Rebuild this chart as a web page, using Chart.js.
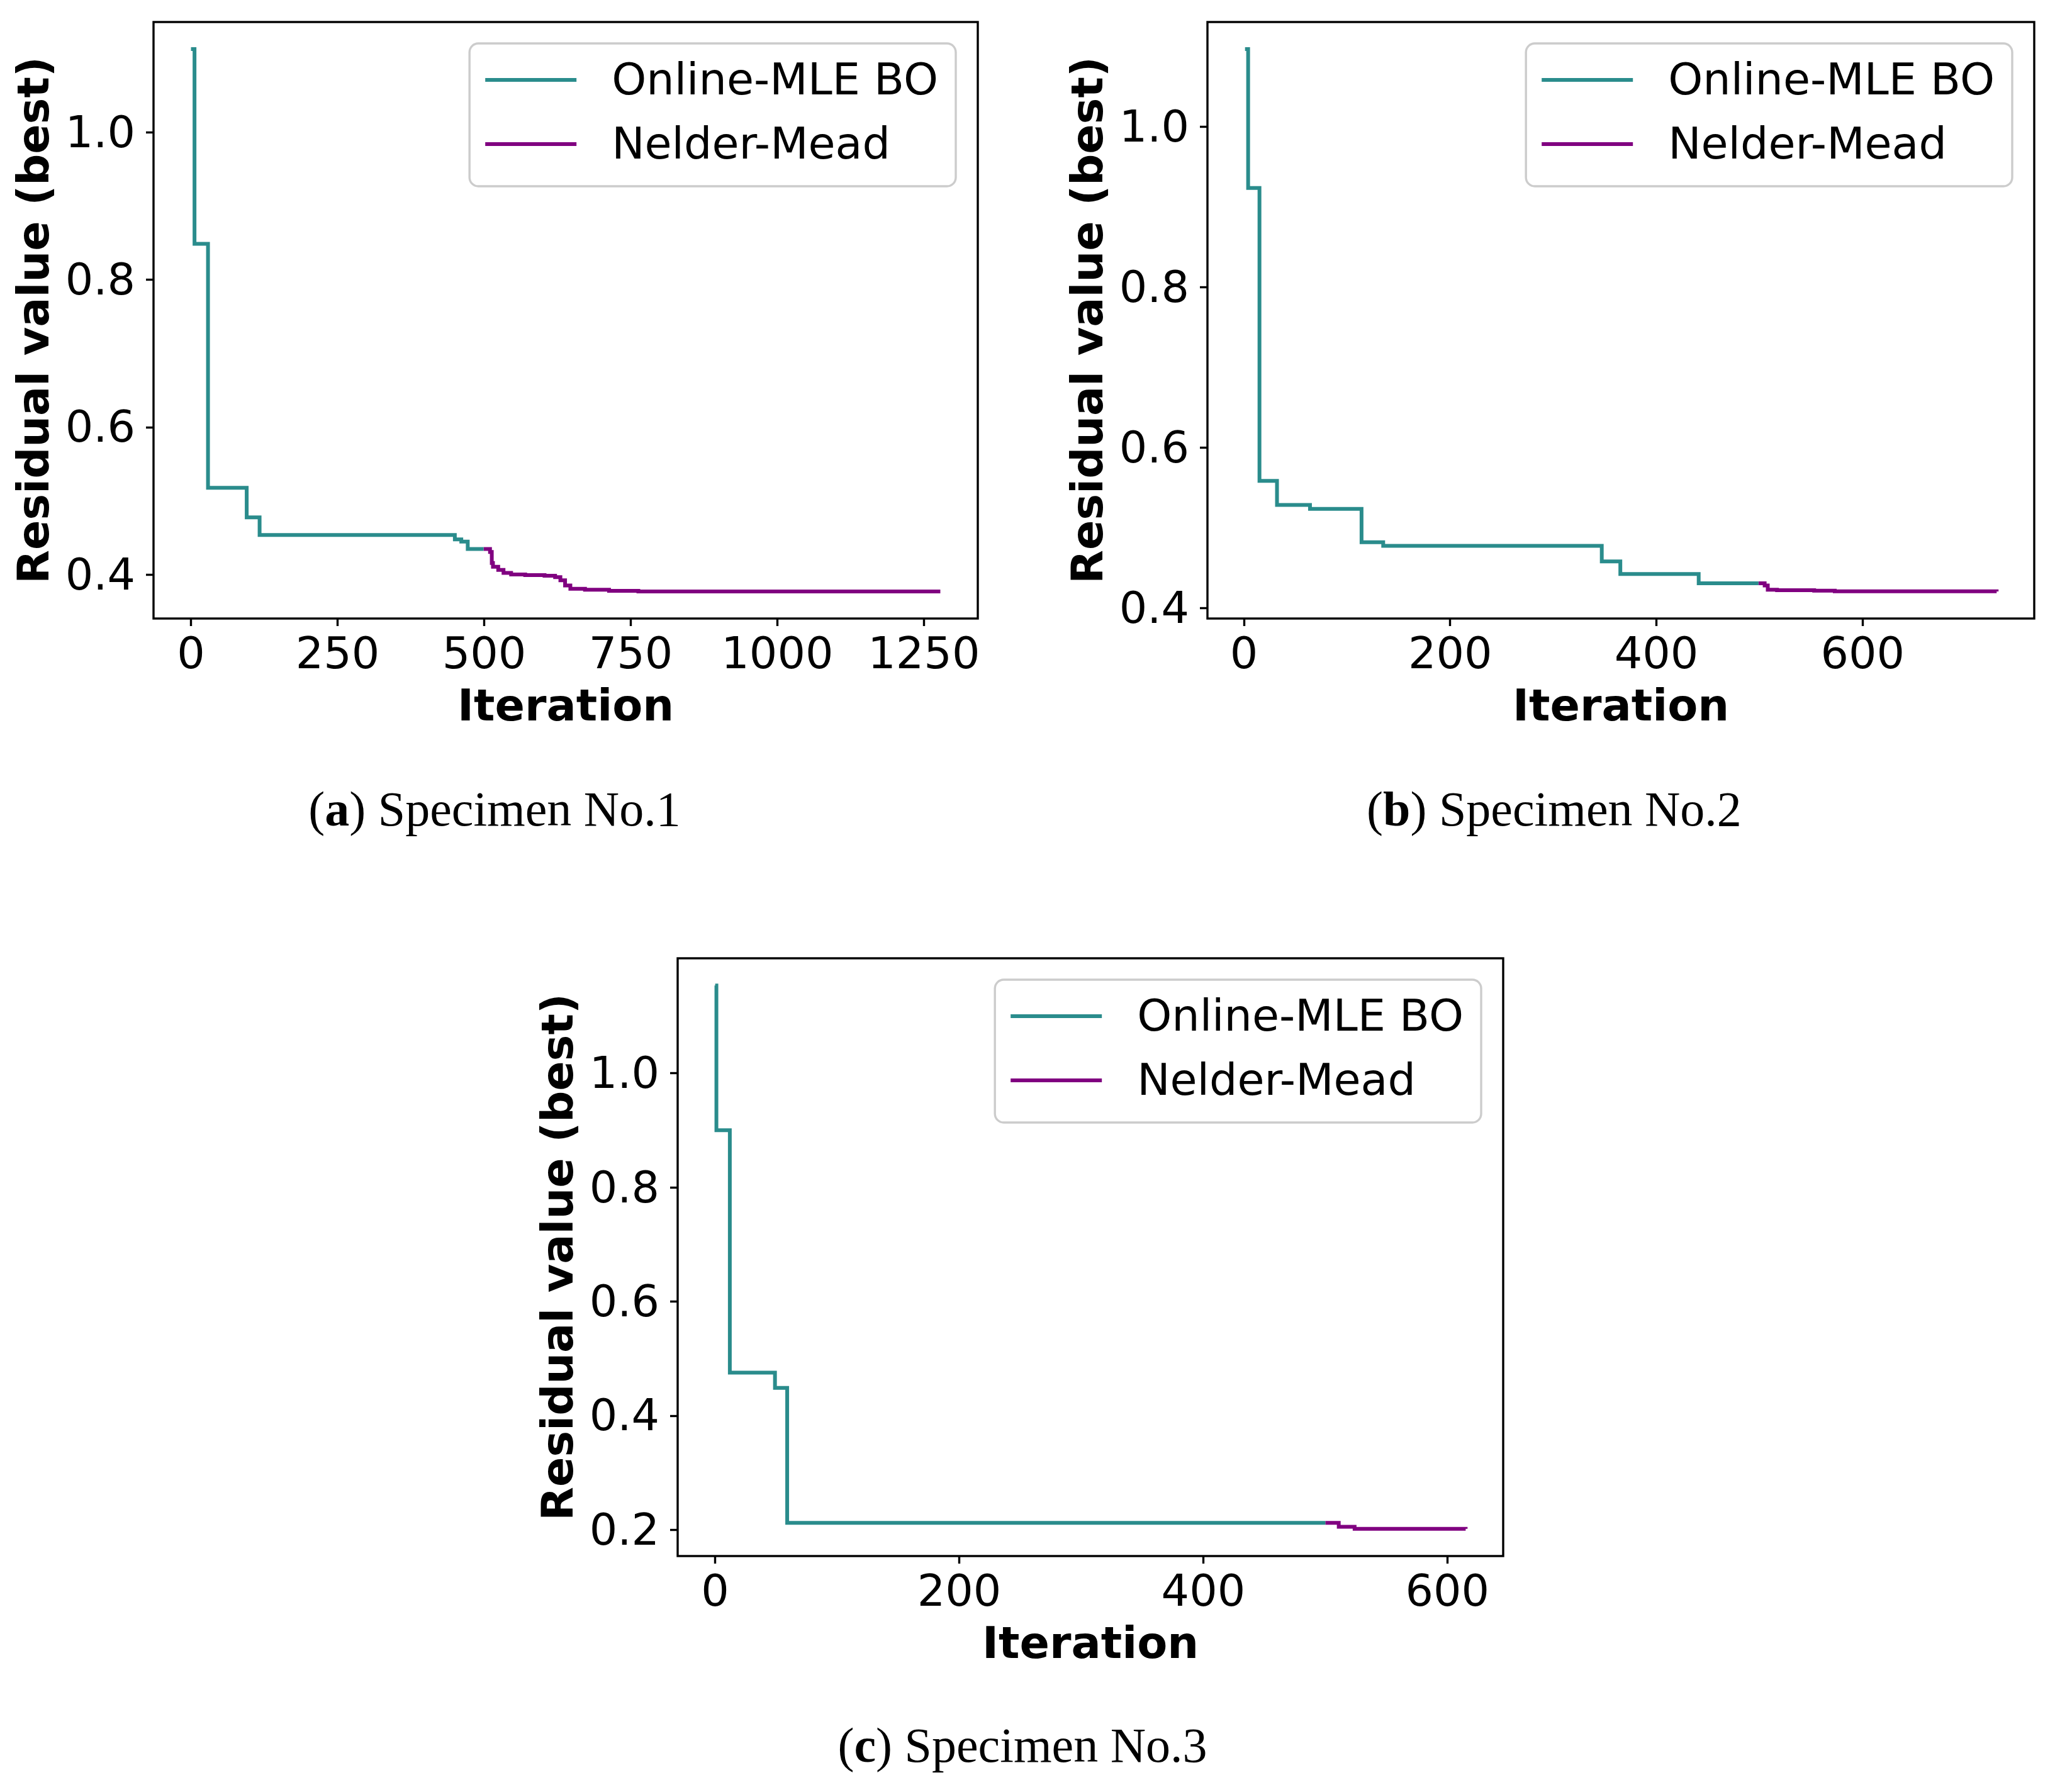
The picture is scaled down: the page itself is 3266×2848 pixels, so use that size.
<!DOCTYPE html>
<html>
<head>
<meta charset="utf-8">
<script src="https://cdn.jsdelivr.net/npm/chart.js@4.4.1/dist/chart.umd.min.js"></script>
<style>
  html, body { margin: 0; padding: 0; background: #fff; }
  body { width: 3266px; height: 2848px; position: relative; overflow: hidden; }
  canvas { position: absolute; }
  .cap { position: absolute; text-align: center; font-family: 'Liberation Serif', serif; font-size: 78px; line-height: 1; color: #000; white-space: nowrap; }
</style>
</head>
<body>
<canvas id="chartA" width="1600" height="1160" style="left:0;top:0;width:1600px;height:1160px"></canvas>
<canvas id="chartB" width="1591" height="1160" style="left:1675px;top:0;width:1591px;height:1160px"></canvas>
<canvas id="chartC" width="1600" height="1162" style="left:833px;top:1488px;width:1600px;height:1162px"></canvas>
<div class="cap" style="left:0;width:1572px;top:1247px">(<b>a</b>) Specimen No.1</div>
<div class="cap" style="left:1675px;width:1590px;top:1247px">(<b>b</b>) Specimen No.2</div>
<div class="cap" style="left:1025px;width:1200px;top:2735px">(<b>c</b>) Specimen No.3</div>
<script>
// series names
const seriesNames = ['Online-MLE BO', 'Nelder-Mead'];

// Specimen No.1
const iterA_bo = [0, 6, 29, 95, 117, 450, 461, 472, 499];
const valA_bo  = [1.113, 0.849, 0.518, 0.478, 0.454, 0.448, 0.445, 0.435, 0.435];
const iterA_nm = [499, 507, 510, 513, 515, 524, 533, 546, 570, 603, 621, 630, 638, 647, 672, 713, 763, 1278];
const valA_nm  = [0.435, 0.435, 0.431, 0.416, 0.411, 0.4067, 0.4025, 0.4005, 0.3996, 0.3988, 0.3968, 0.3925, 0.3855, 0.3811, 0.3797, 0.3783, 0.3775, 0.3775];
const xTicksA = [0, 250, 500, 750, 1000, 1250];
const yTicksA = [0.4, 0.6, 0.8, 1.0];

// Specimen No.2
const iterB_bo = [1, 4, 15, 32, 64, 114, 135, 347, 365, 441, 499];
const valB_bo  = [1.097, 0.924, 0.559, 0.529, 0.524, 0.4825, 0.478, 0.4585, 0.4428, 0.4313, 0.4313];
const iterB_nm = [499, 502, 505, 508, 517, 553, 573, 730];
const valB_nm  = [0.4313, 0.4313, 0.4285, 0.4233, 0.4227, 0.4222, 0.4214, 0.4212];
const xTicksB = [0, 200, 400, 600];
const yTicksB = [0.4, 0.6, 0.8, 1.0];

// Specimen No.3
const iterC_bo = [0, 1, 12, 49, 59, 500];
const valC_bo  = [1.154, 0.9005, 0.4756, 0.449, 0.2126, 0.2126];
const iterC_nm = [500, 511, 524, 615];
const valC_nm  = [0.2126, 0.2056, 0.2021, 0.202];
const xTicksC = [0, 200, 400, 600];
const yTicksC = [0.2, 0.4, 0.6, 0.8, 1.0];

const colorBO = '#2a8c8c';
const colorNM = '#800080';

Chart.defaults.font.family = '"DejaVu Sans", sans-serif';
Chart.defaults.color = '#000';

function toPoints(xs, ys) {
  return xs.map((x, i) => ({ x: x, y: ys[i] }));
}

// axes limits with matplotlib-like 5% margins
function limits(arrs) {
  const all = [].concat(...arrs);
  const lo = Math.min(...all), hi = Math.max(...all);
  const m = (hi - lo) * 0.05;
  return { min: lo - m, max: hi + m };
}

const framePlugin = {
  id: 'frame',
  afterDatasetsDraw(chart) {
    const { ctx, chartArea: a } = chart;
    ctx.save();
    ctx.lineWidth = 3.4;
    ctx.strokeStyle = '#000';
    ctx.strokeRect(a.left, a.top, a.right - a.left, a.bottom - a.top);
    ctx.restore();
  }
};

const legendPlugin = {
  id: 'boxLegend',
  afterDraw(chart) {
    const { ctx, chartArea: a } = chart;
    ctx.save();
    ctx.font = '70px "DejaVu Sans"';
    const sets = chart.data.datasets;
    const tw = Math.max(...sets.map(d => ctx.measureText(d.label).width));
    const w = 226 + tw + 28, h = 227;
    const x = a.right - 35 - w, y = a.top + 34;
    ctx.beginPath();
    ctx.roundRect(x, y, w, h, 14);
    ctx.fillStyle = 'rgba(255,255,255,0.8)';
    ctx.fill();
    ctx.lineWidth = 3.4;
    ctx.strokeStyle = '#cccccc';
    ctx.stroke();
    sets.forEach((d, i) => {
      const ry = y + 58 + i * 102;
      ctx.beginPath();
      ctx.moveTo(x + 25, ry);
      ctx.lineTo(x + 170, ry);
      ctx.lineWidth = 6;
      ctx.strokeStyle = d.borderColor;
      ctx.stroke();
      ctx.fillStyle = '#000';
      ctx.textAlign = 'left';
      ctx.textBaseline = 'middle';
      ctx.fillText(d.label, x + 226, ry + 5);
    });
    ctx.restore();
  }
};

function makeChart(id, bo, nm, xTicks, yTicks, pad, xHeight) {
  const xl = limits([bo[0], nm[0]]);
  const yl = limits([bo[1], nm[1]]);
  return new Chart(document.getElementById(id), {
    type: 'line',
    data: {
      datasets: [
        { label: seriesNames[0], data: toPoints(bo[0], bo[1]), borderColor: colorBO, borderWidth: 6, pointRadius: 0, stepped: 'before', fill: false },
        { label: seriesNames[1], data: toPoints(nm[0], nm[1]), borderColor: colorNM, borderWidth: 6, pointRadius: 0, stepped: 'before', fill: false }
      ]
    },
    options: {
      responsive: false,
      animation: false,
      devicePixelRatio: 1,
      layout: { padding: pad },
      plugins: { legend: { display: false }, tooltip: { enabled: false } },
      scales: {
        x: {
          type: 'linear',
          min: xl.min,
          max: xl.max,
          afterBuildTicks: s => { s.ticks = xTicks.map(v => ({ value: v })); },
          afterFit: s => { s.height = xHeight; s.paddingLeft = 0; s.paddingRight = 0; },
          ticks: { callback: v => String(v), font: { size: 70, lineHeight: 1 }, padding: 14, maxRotation: 0, autoSkip: false },
          grid: { drawOnChartArea: false, drawTicks: true, tickLength: 12, tickWidth: 3.4, tickColor: '#000' },
          border: { display: false },
          title: { display: true, text: 'Iteration', font: { size: 70, weight: 'bold', lineHeight: 1 }, padding: { top: 0, bottom: -2 } }
        },
        y: {
          type: 'linear',
          min: yl.min,
          max: yl.max,
          afterBuildTicks: s => { s.ticks = yTicks.map(v => ({ value: v })); },
          afterFit: s => { s.width = 244; s.paddingTop = 0; s.paddingBottom = 0; },
          ticks: { callback: v => v.toFixed(1), font: { size: 70, lineHeight: 1 }, padding: 17, labelOffset: 5, autoSkip: false },
          grid: { drawOnChartArea: false, drawTicks: true, tickLength: 12, tickWidth: 3.4, tickColor: '#000' },
          border: { display: false },
          title: { display: true, text: 'Residual value (best)', font: { size: 70, weight: 'bold', lineHeight: 1 }, padding: { top: 24, bottom: 0 } }
        }
      }
    },
    plugins: [framePlugin, legendPlugin]
  });
}

makeChart('chartA', [iterA_bo, valA_bo], [iterA_nm, valA_nm], xTicksA, yTicksA, { left: 0, top: 35, right: 46, bottom: 0 }, 177);
makeChart('chartB', [iterB_bo, valB_bo], [iterB_nm, valB_nm], xTicksB, yTicksB, { left: 0, top: 35, right: 33, bottom: 0 }, 177);
makeChart('chartC', [iterC_bo, valC_bo], [iterC_nm, valC_nm], xTicksC, yTicksC, { left: 0, top: 35, right: 44, bottom: 0 }, 177);
</script>
</body>
</html>
